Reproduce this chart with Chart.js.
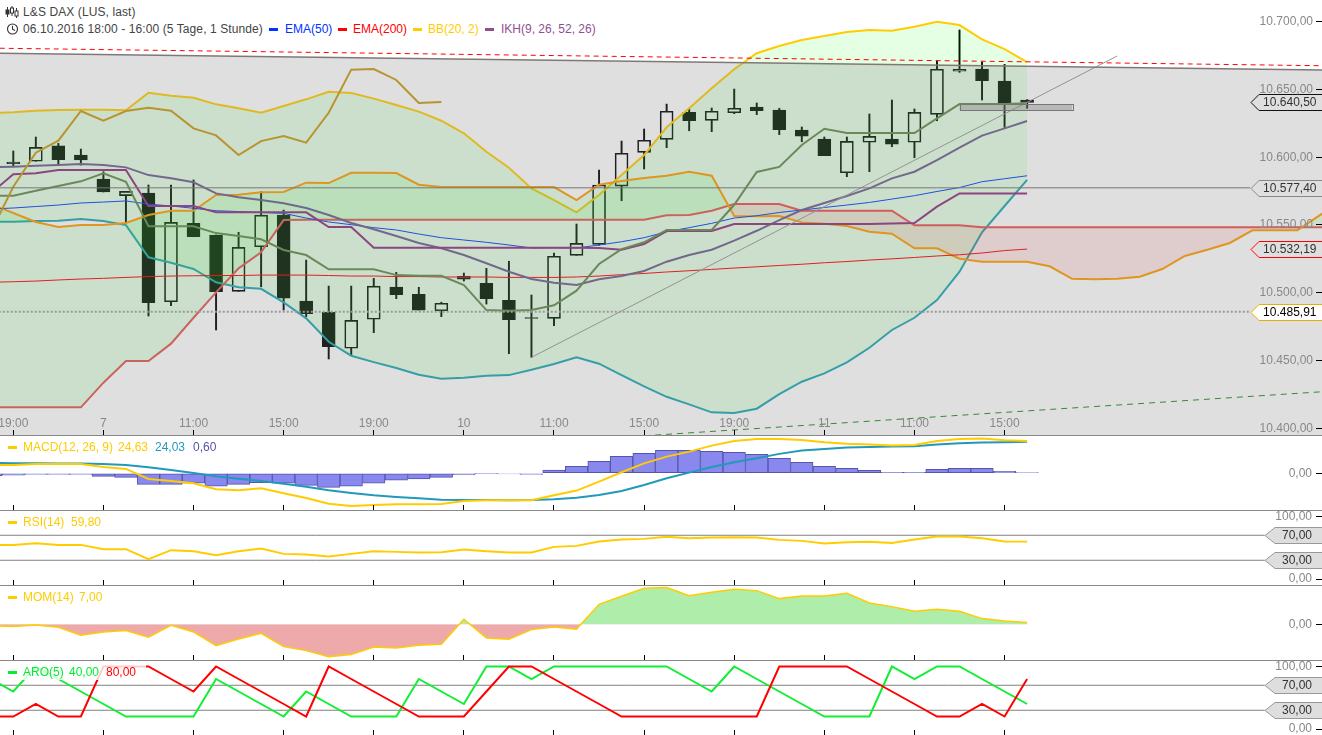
<!DOCTYPE html>
<html>
<head>
<meta charset="utf-8">
<title>L&amp;S DAX</title>
<script src="https://cdn.jsdelivr.net/npm/chart.js@4"></script>
<style>
    html, body { margin: 0; padding: 0; background: #fff; }
    body { width: 1322px; height: 735px; overflow: hidden; position: relative; font: 12px "Liberation Sans", sans-serif; }
    canvas { position: absolute; left: 0; }
    .txt { position: absolute; white-space: nowrap; line-height: 14px; height: 14px; }
    .dash { position: absolute; width: 9px; height: 3px; }
    .sep { position: absolute; left: 0; width: 1322px; height: 1px; background: #888; }
    .bgw { background: rgba(255, 255, 255, 0.8); }
</style>
</head>
<body>
<svg style="position:absolute;left:5px;top:6px" width="14" height="12" viewBox="0 0 14 12" fill="none" stroke="#333" stroke-width="1">
    <path d="M2.5 1v10M7 0v10M11.5 2v10"/><rect x="1" y="4" width="3" height="4" fill="#333"/><rect x="5.5" y="2" width="3" height="5" fill="#fff"/><rect x="10" y="5" width="3" height="5" fill="#fff"/>
</svg>
<svg style="position:absolute;left:6px;top:23px" width="13" height="12" viewBox="0 0 13 12" fill="none" stroke="#333" stroke-width="1.1">
    <circle cx="6.5" cy="6" r="5"/><path d="M6.5 2.8V6.2L9 7.6"/>
</svg>
<div class="txt" style="left:23px;top:5px;color:#444;letter-spacing:0.1px">L&amp;S DAX (LUS, last)</div>
<div class="txt" style="left:23px;top:22px;color:#444;letter-spacing:0.09px">06.10.2016 18:00 - 16:00 (5 Tage, 1 Stunde)</div>
<div class="dash" style="left:269px;top:28px;background:#0033ff"></div>
<div class="txt" style="left:285px;top:22px;color:#0033ff">EMA(50)</div>
<div class="dash" style="left:338px;top:28px;background:#ff0000"></div>
<div class="txt" style="left:353px;top:22px;color:#ff0000">EMA(200)</div>
<div class="dash" style="left:413px;top:28px;background:#ffcc00"></div>
<div class="txt" style="left:428px;top:22px;color:#ffcc00">BB(20, 2)</div>
<div class="dash" style="left:485px;top:28px;background:#8f4f8f"></div>
<div class="txt" style="left:501px;top:22px;color:#8f4f8f">IKH(9, 26, 52, 26)</div>

<canvas id="priceChart" width="1322" height="435" style="top:0"></canvas>
<canvas id="macdChart" width="1322" height="75" style="top:435px"></canvas>
<canvas id="rsiChart" width="1322" height="75" style="top:510px"></canvas>
<canvas id="momChart" width="1322" height="75" style="top:585px"></canvas>
<canvas id="aroChart" width="1322" height="75" style="top:660px"></canvas>

<div class="sep" style="top:435px"></div>
<div class="sep" style="top:510px"></div>
<div class="sep" style="top:585px"></div>
<div class="sep" style="top:660px"></div>

<div class="dash" style="left:8px;top:446px;background:#ffcc00"></div>
<div class="txt" style="left:23px;top:440px;color:#ffcc00">MACD(12, 26, 9)</div>
<div class="txt" style="left:118px;top:440px;color:#ffcc00">24,63</div>
<div class="txt" style="left:155px;top:440px;color:#2299bb">24,03</div>
<div class="txt" style="left:193px;top:440px;color:#5555aa">0,60</div>
<div class="dash" style="left:8px;top:521px;background:#ffcc00"></div>
<div class="txt" style="left:23px;top:515px;color:#ffcc00">RSI(14)</div>
<div class="txt" style="left:71px;top:515px;color:#ffcc00">59,80</div>
<div class="dash" style="left:8px;top:596px;background:#ffcc00"></div>
<div class="txt" style="left:23px;top:590px;color:#ffcc00">MOM(14)</div>
<div class="txt" style="left:79px;top:590px;color:#ffcc00">7,00</div>
<div class="bgw" style="position:absolute;left:4px;top:664px;width:142px;height:16px"></div>
<div class="dash" style="left:8px;top:671px;background:#00ee33"></div>
<div class="txt" style="left:23px;top:665px;color:#00ee33">ARO(5)</div>
<div class="txt" style="left:69px;top:665px;color:#00ee33">40,00</div>
<div class="txt" style="left:106px;top:665px;color:#ff0000">80,00</div>

<script>
// x axis positions and labels, one unit = one hourly candle
const timeTicks = [0, 4, 8, 12, 16, 20, 24, 28, 32, 36, 40, 44];
const timeLabels = ['19:00', '7', '11:00', '15:00', '19:00', '10', '11:00', '15:00', '19:00', '11', '11:00', '15:00'];

const priceTicks = [10400, 10450, 10500, 10550, 10600, 10650, 10700];
const priceLabels = ['10.400,00', '10.450,00', '10.500,00', '10.550,00', '10.600,00', '10.650,00', '10.700,00'];

// candles, first one sits on the first 19:00 tick
const candleOpen = [10596.4, 10597.0, 10608.3, 10601.6, 10583.9, 10571.6, 10573.6, 10493.3, 10551.2, 10542.6, 10501.0, 10533.9, 10557.3, 10493.9, 10485.5, 10459.0, 10480.4, 10504.2, 10498.8, 10486.7, 10509.9, 10506.9, 10494.4, 10481.7, 10481.1, 10527.6, 10535.7, 10578.7, 10603.6, 10613.2, 10633.1, 10627.2, 10632.8, 10637.0, 10634.8, 10620.1, 10613.4, 10588.5, 10611.0, 10613.4, 10611.0, 10631.6, 10663.4, 10665.1, 10656.2, 10642.2];
const candleClose = [10595.3, 10607.3, 10598.1, 10597.9, 10574.3, 10574.8, 10492.6, 10551.9, 10541.3, 10500.7, 10533.5, 10557.3, 10495.9, 10484.5, 10460.1, 10479.6, 10504.9, 10498.5, 10487.2, 10492.2, 10512.1, 10495.6, 10480.1, 10481.0, 10526.9, 10536.4, 10579.5, 10602.9, 10612.5, 10633.9, 10626.9, 10633.9, 10636.1, 10634.3, 10620.3, 10615.6, 10601.1, 10611.7, 10615.4, 10609.7, 10633.1, 10664.9, 10664.9, 10656.4, 10639.8, 10640.5];
const candleHigh = [10604.6, 10614.9, 10610.2, 10606.0, 10589.3, 10574.8, 10579.5, 10579.5, 10583.2, 10542.6, 10544.6, 10574.5, 10561.0, 10524.1, 10504.9, 10504.9, 10510.6, 10515.0, 10504.0, 10493.0, 10514.5, 10518.0, 10523.2, 10498.3, 10529.3, 10550.7, 10590.5, 10611.9, 10620.8, 10639.2, 10636.1, 10636.3, 10650.3, 10640.0, 10636.1, 10622.3, 10614.9, 10614.9, 10631.9, 10642.2, 10635.6, 10671.2, 10693.9, 10670.2, 10668.5, 10642.5];
const candleLow = [10593.5, 10597.0, 10594.2, 10594.2, 10574.3, 10551.4, 10482.8, 10490.4, 10541.3, 10472.5, 10501.0, 10504.4, 10487.2, 10482.3, 10451.1, 10454.0, 10470.5, 10495.6, 10487.2, 10482.3, 10508.6, 10491.6, 10455.0, 10452.3, 10475.6, 10527.6, 10535.0, 10567.9, 10591.3, 10607.0, 10619.5, 10618.8, 10632.1, 10631.4, 10616.6, 10611.4, 10601.1, 10585.6, 10589.3, 10607.7, 10599.6, 10626.9, 10662.6, 10642.2, 10622.0, 10636.1];

// overlays, all start one candle before the left edge
const bbUpper = [10632.6, 10633.1, 10634.3, 10634.8, 10635, 10635, 10634.6, 10647.6, 10645.4, 10643.9, 10639, 10636.1, 10632.8, 10637.8, 10642.7, 10648.3, 10647.4, 10643.2, 10638.5, 10633.6, 10626.9, 10617.6, 10604, 10592.2, 10577, 10568.4, 10559.3, 10572.1, 10586.8, 10601.6, 10622.1, 10636.1, 10650.8, 10664.9, 10676.7, 10682.1, 10686.5, 10689.4, 10692.4, 10693.9, 10693.3, 10696.3, 10700, 10697.5, 10687, 10679.8, 10670.2];
const bbLower = [10552.2, 10552.4, 10552.9, 10553.1, 10554.4, 10552.9, 10549.9, 10526.1, 10522.1, 10517.5, 10507.7, 10504, 10502.9, 10492.9, 10481.1, 10463.8, 10453.5, 10448.8, 10444.4, 10439.5, 10436.5, 10437.3, 10438.7, 10439.2, 10443.2, 10447.4, 10452.3, 10447.6, 10439.2, 10430.9, 10423.2, 10417.6, 10411.7, 10411.2, 10414.4, 10425.2, 10434.3, 10440.5, 10448.6, 10459.4, 10472.5, 10481.5, 10494.6, 10515.5, 10544.6, 10564, 10583.2];
const spanA = [10565.4, 10558.8, 10552.2, 10548.5, 10549.9, 10549.9, 10551.4, 10557.3, 10560.5, 10560.5, 10572.1, 10572.3, 10574.1, 10574.3, 10581.2, 10580.9, 10588.5, 10588.5, 10588.3, 10579.7, 10578, 10578, 10578, 10578, 10578, 10578, 10568.4, 10579.7, 10582.4, 10584.6, 10586.3, 10589.3, 10586.3, 10556.6, 10556.4, 10556.6, 10551.9, 10550.9, 10549.2, 10545, 10543.5, 10532.8, 10532.8, 10525.1, 10522.9, 10522.9, 10522.9, 10519.5, 10510.3, 10509.9, 10510.3, 10511.8, 10517.5, 10527.1, 10531.7, 10536.7, 10546, 10546, 10546, 10557.3, 10568.4];
const spanB = [10415.4, 10415.4, 10415.4, 10415.4, 10415.4, 10433.6, 10449.6, 10449.6, 10462.4, 10481.5, 10500.3, 10518, 10529.8, 10553.6, 10553.9, 10553.9, 10553.9, 10553.9, 10553.9, 10553.9, 10553.9, 10553.9, 10553.9, 10553.9, 10553.9, 10553.9, 10553.9, 10553.9, 10553.9, 10553.9, 10557.1, 10557.3, 10560.5, 10565.4, 10565.4, 10565.4, 10560.5, 10560.5, 10560.5, 10560.5, 10560.5, 10549.7, 10549.7, 10549.7, 10548.3, 10548.3, 10548.3, 10548.3, 10548.3, 10548.3, 10548.3, 10548.3, 10548.3, 10548.3, 10548.3, 10548.3, 10548.3, 10548.3, 10548.3, 10548.3, 10548.3];
const tenkan = [10571.4, 10571.6, 10575.3, 10578.7, 10582.2, 10588.1, 10581.9, 10549, 10549, 10549, 10544, 10541.8, 10539.4, 10531.5, 10527.8, 10517.3, 10517.3, 10517.3, 10513, 10512.5, 10512.5, 10505.7, 10487.2, 10486.7, 10487.2, 10490.7, 10501.5, 10521.2, 10532.2, 10537.2, 10546.3, 10546.3, 10546.3, 10564.9, 10589.1, 10592.8, 10609, 10621, 10617.8, 10617.8, 10617.8, 10617.8, 10628.7, 10639.2, 10639.2, 10639.2, 10639.8];
const kijun = [10573.3, 10587.4, 10588.1, 10590.5, 10590.5, 10590.5, 10590.5, 10564, 10564, 10564, 10559.3, 10559.3, 10559.3, 10559.3, 10559.3, 10548.5, 10548.5, 10533.2, 10533.2, 10533.2, 10533.2, 10533.2, 10533.2, 10533.2, 10533.2, 10533.2, 10533.2, 10533, 10531.7, 10535.9, 10545.5, 10545.5, 10545.5, 10550.7, 10550.7, 10550.7, 10550.7, 10550.7, 10550.7, 10550.7, 10551.1, 10551.4, 10563.5, 10573.3, 10573.3, 10573.3, 10573.3];
const slowLine = [10592.5, 10593, 10593.7, 10594.2, 10595, 10594.2, 10592.5, 10586.8, 10584.4, 10581.5, 10573.3, 10570.4, 10568.4, 10566, 10562.5, 10557.3, 10551.4, 10546.8, 10541.8, 10536.7, 10532.8, 10527.8, 10521.7, 10515.5, 10510.1, 10507.4, 10505.7, 10509.9, 10512.3, 10516, 10522.9, 10527.8, 10531.7, 10538.4, 10545.7, 10553.6, 10561, 10566.2, 10571.4, 10577, 10584.4, 10589.3, 10597.9, 10607, 10615.9, 10621.3, 10626.7];
const chikou = [10544.8, 10578.2, 10603.3, 10612.2, 10634.1, 10626.9, 10634.1, 10636.5, 10634.3, 10621.3, 10616.1, 10601.6, 10611.9, 10615.6, 10610.7, 10632.8, 10664.6, 10665.1, 10657, 10640, 10640.7];
const ema50 = [10561.8, 10562.5, 10563.6, 10564.7, 10566.2, 10566.9, 10567.7, 10565.4, 10564, 10562.3, 10560.5, 10559.9, 10559.2, 10558.6, 10555.1, 10552.2, 10550.2, 10548, 10546.3, 10543.3, 10540.6, 10538.9, 10537.2, 10535.2, 10533, 10533.2, 10533, 10535.2, 10537.6, 10540.6, 10545, 10548, 10551.2, 10555.1, 10556.8, 10559.2, 10561, 10562.9, 10564.7, 10566.6, 10569.1, 10571.6, 10574.7, 10577.6, 10581.9, 10584.1, 10586.3];
const ema200 = [10507.7, 10508.1, 10508.6, 10509.4, 10510.1, 10510.6, 10511.3, 10511.9, 10512.3, 10512.5, 10512.7, 10512.7, 10513, 10513, 10513, 10512.7, 10512.3, 10512.3, 10511.9, 10511.9, 10511.6, 10511.6, 10511.6, 10511.3, 10511.3, 10511.3, 10511.6, 10512.3, 10513.3, 10514.2, 10515.3, 10516.2, 10517.2, 10518.2, 10519.1, 10520.1, 10521, 10522.1, 10523, 10524.1, 10525, 10526, 10527.1, 10528, 10529.3, 10531.1, 10532.19];

// hand drawn trend lines on the price pane
const channelX = [-1, 59];
const channelY = [10676.8, 10664.1];
const resistX = [-1, 59];
const resistY = [10680.5, 10667.3];
const supportX = [28, 59];
const supportY = [10394.4, 10427.9];
const trendX = [23, 49];
const trendY = [10452.3, 10674.7];
const boxX = [42, 47];
const boxY = [10639, 10634.6];

// lower panes
const macdLine = [6.4, 6.4, 7.1, 7.1, 7.1, 4.8, 3.3, -4.3, -5.9, -7.6, -12.2, -13, -11.5, -15.3, -18.8, -23.2, -24.9, -24.2, -23.7, -23.7, -23.4, -21.1, -20.6, -20.6, -20.6, -16.8, -13.2, -6.4, 0.8, 7.6, 12.7, 16.5, 21.1, 24.7, 26.2, 26.2, 25.4, 23.7, 22.6, 21.9, 21.1, 21.6, 24.7, 26.2, 26.5, 25.2, 24.63];
const macdSignal = [8.1, 7.6, 7.6, 7.4, 7.4, 7.1, 6.4, 4.6, 2.5, 0.3, -2.3, -4.1, -5.9, -7.9, -10.2, -13, -15, -16.8, -18.1, -19.1, -20.1, -20.4, -20.4, -20.6, -20.4, -19.8, -18.6, -16.5, -13.5, -8.9, -3.8, 0.5, 4.8, 8.4, 11.5, 14.8, 17.3, 18.6, 19.6, 20.1, 20.4, 20.6, 21.9, 22.9, 23.4, 23.7, 24.03];
const macdHist = [-2, -1.5, -0.8, -0.8, -0.8, -2.3, -3.1, -8.4, -8.4, -7.6, -9.9, -8.4, -7.1, -7.6, -9.2, -10.7, -9.9, -7.6, -5.3, -4.3, -3.1, -1, -0.2, -0.5, -0.8, 2.5, 5.3, 9.2, 13, 15.3, 17.6, 17.6, 16.8, 16, 14.5, 11.5, 8.4, 5.3, 3.8, 2.3, 0.8, 0.8, 3.1, 3.8, 3.8, 1.5, 0.6];
const rsiValues = [54.6, 54.6, 57.3, 54.6, 54.6, 47.7, 47.7, 31.7, 46.1, 44.5, 38.1, 44.5, 48.8, 40.2, 39.2, 36, 40.2, 44.5, 43.4, 42.4, 42.9, 47.2, 44.5, 42.4, 42.4, 51.4, 53, 60, 63.2, 64.2, 67.4, 65.3, 66.4, 66.9, 66.4, 62.6, 61, 56.8, 58.9, 59.4, 57.8, 63.2, 68, 68, 65.3, 60, 59.8];
const momValues = [-5.6, -9.8, -2.8, -12.6, -46.2, -32.2, -26.6, -54.6, -4.2, -32.2, -89.6, -61.6, -37.8, -93.8, -110.6, -135.8, -127.4, -95.2, -99.4, -88.2, -84, 21, -57.4, -63, -22.4, -11.2, -21, 84, 117.6, 151.2, 154, 120.4, 134.4, 147, 141.4, 107.8, 119, 119, 130.2, 89.6, 74.2, 54.6, 63, 54.6, 23.8, 14, 7];
const aroUp = [80, 60, 100, 80, 60, 40, 20, 20, 20, 20, 80, 60, 40, 20, 60, 40, 20, 20, 20, 80, 60, 40, 100, 100, 80, 100, 100, 100, 100, 100, 100, 80, 60, 100, 80, 60, 40, 20, 20, 20, 100, 80, 100, 100, 80, 60, 40];
const aroDown = [20, 20, 40, 20, 20, 100, 100, 100, 80, 60, 100, 80, 60, 40, 20, 100, 80, 60, 40, 20, 20, 20, 60, 100, 100, 80, 60, 40, 20, 20, 20, 20, 20, 20, 20, 100, 100, 100, 100, 80, 60, 40, 20, 20, 40, 20, 80];

const xMin = -0.59;
const xMax = 58.09;
const lastCandles = candleOpen.map((o, i) => i);

function pts(values, first) {
    return values.map((v, i) => ({ x: first + i, y: v }));
}
function seg(xs, ys) {
    return xs.map((x, i) => ({ x: x, y: ys[i] }));
}
function line(label, data, color, width, extra) {
    return Object.assign({
        type: 'line', label: label, data: data, borderColor: color, borderWidth: width,
        backgroundColor: color, pointRadius: 0, tension: 0, fill: false
    }, extra || {});
}
// paint order is array order, chart.js draws the lowest order last
function stackOrder(list) {
    list.forEach((d, i) => { d.order = list.length - i; });
    return list;
}

// price tags on the right side, drawn after the datasets
function tagPlugin(tags, tipX, shoulderX, textX, box) {
    return {
        id: 'tags',
        afterDatasetsDraw(chart) {
            const { ctx, scales: { x, y } } = chart;
            ctx.save();
            if (box) {
                const bx1 = x.getPixelForValue(box.xs[0]), bx2 = x.getPixelForValue(box.xs[1]);
                const by1 = y.getPixelForValue(box.ys[0]), by2 = y.getPixelForValue(box.ys[1]);
                ctx.fillStyle = 'rgba(128,128,128,0.4)';
                ctx.strokeStyle = '#777';
                ctx.lineWidth = 1;
                ctx.fillRect(bx1, by1, bx2 - bx1, by2 - by1);
                ctx.strokeRect(Math.round(bx1) + 0.5, Math.round(by1) + 0.5, Math.round(bx2 - bx1), Math.round(by2 - by1));
            }
            tags.forEach(t => {
                const py = Math.round(y.getPixelForValue(t.value)) + 0.5;
                ctx.beginPath();
                ctx.moveTo(1323, py - 8);
                ctx.lineTo(shoulderX, py - 8);
                ctx.lineTo(tipX, py);
                ctx.lineTo(shoulderX, py + 8);
                ctx.lineTo(1323, py + 8);
                if (t.fill) {
                    ctx.fillStyle = t.fill;
                    ctx.fill();
                }
                ctx.strokeStyle = t.stroke;
                ctx.lineWidth = 1;
                ctx.stroke();
                ctx.fillStyle = t.color;
                ctx.font = '12px "Liberation Sans"';
                ctx.textAlign = 'right';
                ctx.textBaseline = 'middle';
                ctx.fillText(t.text, textX, py + 0.5);
            });
            ctx.restore();
        }
    };
}

function makePanel(id, datasets, yMin, yMax, yTicks, yLabels, xLabels, plugin, tickPad) {
    return new Chart(id, {
        type: 'line',
        data: { datasets: stackOrder(datasets) },
        options: {
            responsive: false,
            animation: false,
            devicePixelRatio: 1,
            events: [],
            layout: { padding: 0 },
            plugins: { legend: { display: false }, tooltip: { enabled: false } },
            scales: {
                x: {
                    type: 'linear', min: xMin, max: xMax, position: 'bottom', offset: false,
                    // axis takes no room, the ticks and labels sit inside the pane
                    afterFit(s) { s.height = 0; s.paddingLeft = 0; s.paddingRight = 0; },
                    afterBuildTicks(s) { s.ticks = timeTicks.map(v => ({ value: v })); },
                    border: { display: false },
                    grid: { offset: false, drawOnChartArea: false, tickLength: -5, tickColor: '#000', z: 1 },
                    ticks: {
                        mirror: true, padding: 4, autoSkip: false, maxRotation: 0, z: 1,
                        color: '#888', font: { family: 'Liberation Sans', size: 12 },
                        callback: v => xLabels ? xLabels[timeTicks.indexOf(v)] : ''
                    }
                },
                y: {
                    type: 'linear', min: yMin, max: yMax, position: 'right',
                    afterFit(s) { s.width = 0; s.paddingTop = 0; s.paddingBottom = 0; },
                    afterBuildTicks(s) { s.ticks = yTicks.map(v => ({ value: v })); },
                    border: { display: false },
                    grid: { drawOnChartArea: false, tickLength: -6, tickColor: '#000', z: 1 },
                    ticks: {
                        mirror: true, padding: tickPad, z: 1,
                        color: '#888', font: { family: 'Liberation Sans', size: 12 },
                        callback: v => yLabels[yTicks.indexOf(v)]
                    }
                }
            }
        },
        plugins: plugin ? [plugin] : []
    });
}

function priceDatasets() {
    const wick = { type: 'bar', barThickness: 1.3, backgroundColor: '#000', borderWidth: 0, grouped: false };
    const bodies = {
        type: 'bar', label: 'candles', barThickness: 13, grouped: false, borderWidth: 1, borderColor: '#000',
        borderSkipped: false,
        data: lastCandles.map(i => ({ x: i, y: [candleOpen[i], candleClose[i]] })),
        backgroundColor: lastCandles.map(i => candleClose[i] < candleOpen[i] ? '#000' : 'rgba(0,0,0,0)')
    };
    const list = [
        Object.assign({}, wick, { label: 'upper wick', data: lastCandles.map(i => ({ x: i, y: [Math.max(candleOpen[i], candleClose[i]), candleHigh[i]] })) }),
        Object.assign({}, wick, { label: 'lower wick', data: lastCandles.map(i => ({ x: i, y: [candleLow[i], Math.min(candleOpen[i], candleClose[i])] })) }),
        bodies,
        line('BB lower', pts(bbLower, -1), 'rgb(32,164,190)', 2),
        line('BB upper', pts(bbUpper, -1), '#ffcc00', 2, { fill: { target: 3, above: 'rgba(0,255,0,0.1)', below: 'rgba(0,255,0,0.1)' } }),
        line('Span B', pts(spanB, -1), 'rgb(235,85,85)', 2),
        line('Span A', pts(spanA, -1), 'rgb(255,157,0)', 2, { fill: { target: 5, above: 'rgba(0,255,0,0.1)', below: 'rgba(255,0,0,0.1)' } }),
        line('EMA200', pts(ema200, -1), '#ff0000', 1),
        line('EMA50', pts(ema50, -1), '#0040ff', 1),
        line('slow', pts(slowLine, -1), 'rgb(110,97,144)', 2),
        line('Kijun', pts(kijun, -1), 'rgb(144,50,130)', 2),
        line('Tenkan', pts(tenkan, -1), 'rgb(99,141,77)', 2),
        line('Chikou', pts(chikou, -1), 'rgb(203,155,21)', 2),
        line('support', seg(supportX, supportY), '#1f8a1f', 1, { borderDash: [6, 5] }),
        line('trend', seg(trendX, trendY), '#999', 1),
        line('channel', seg(channelX, channelY), '#807878', 1.5, { fill: { value: 10395, above: 'rgba(128,128,128,0.25)', below: 'rgba(128,128,128,0.25)' } }),
        line('resistance', seg(resistX, resistY), '#ff0000', 1, { borderDash: [5, 4] }),
        line('last', seg([-1, 54.9], [10577.4, 10577.4]), '#777', 1),
        line('prev close', seg([-1, 54.9], [10485.91, 10485.91]), '#999', 2, { borderDash: [2, 2] })
    ];
    return list;
}

const priceTags = [
    { value: 10640.5, text: '10.640,50', stroke: '#111', color: '#333' },
    { value: 10577.4, text: '10.577,40', stroke: '#888', color: '#333' },
    { value: 10532.19, text: '10.532,19', stroke: '#ff0000', color: '#333' },
    { value: 10485.91, text: '10.485,91', stroke: '#e6b000', fill: '#fff', color: '#000' }
];
const levelTags = [
    { value: 70, text: '70,00', stroke: '#999', fill: '#dedede', color: '#333' },
    { value: 30, text: '30,00', stroke: '#999', fill: '#dedede', color: '#333' }
];
const levelTicks = [0, 100];
const levelLabels = ['0,00', '100,00'];

function levelLines() {
    return [
        line('70', seg([-1, 55.55], [70, 70]), '#808080', 1),
        line('30', seg([-1, 55.55], [30, 30]), '#808080', 1)
    ];
}

makePanel('priceChart', priceDatasets(), 10395, 10716, priceTicks, priceLabels, timeLabels,
    tagPlugin(priceTags, 1251, 1259, 1316.5, { xs: boxX, ys: boxY }), -9);

makePanel('macdChart', [
    {
        type: 'bar', label: 'hist', data: pts(macdHist, -1), barThickness: 22.5, grouped: false,
        backgroundColor: '#8888ee', borderColor: '#5555aa', borderWidth: 1, borderSkipped: false
    },
    line('signal', pts(macdSignal, -1), '#2299bb', 2),
    line('macd', pts(macdLine, -1), '#ffcc00', 2)
], -28, 29.2, [0], ['0,00'], null, null, -10);

makePanel('rsiChart', levelLines().concat([
    line('RSI', pts(rsiValues, -1), '#ffcc00', 2)
]), -9.6, 110.4, levelTicks, levelLabels, null, tagPlugin(levelTags, 1265, 1275, 1312), -10);

makePanel('momChart', [
    line('MOM', pts(momValues, -1), '#ffcc00', 1.5, { fill: { value: 0, above: '#aeeeaa', below: '#eeaaaa' } })
], -150, 165, [0], ['0,00'], null, null, -10);

makePanel('aroChart', levelLines().concat([
    line('up', pts(aroUp, -1), '#11ee33', 2),
    line('down', pts(aroDown, -1), '#ff0000', 2)
]), -9.6, 110.4, levelTicks, levelLabels, null, tagPlugin(levelTags, 1265, 1275, 1312), -10);
</script>
</body>
</html>
